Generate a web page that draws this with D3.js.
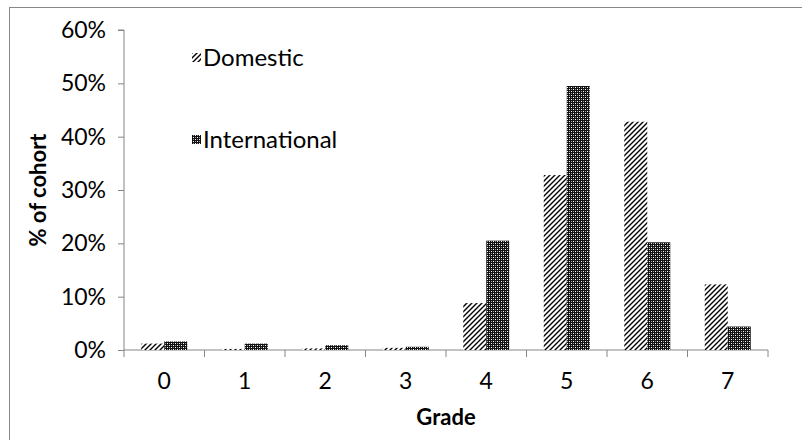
<!DOCTYPE html>
<html><head><meta charset="utf-8">
<script src="https://cdn.jsdelivr.net/npm/d3@7/dist/d3.min.js"></script>
<style>body{margin:0;background:#fff}svg{display:block}</style>
</head><body><svg id="c" width="802" height="440"></svg>
<script>
const categories = ["0","1","2","3","4","5","6","7"];
const seriesNames = ["Domestic","International"];
const domestic = [1.2, 0.2, 0.3, 0.4, 8.8, 32.8, 42.8, 12.3];
const international = [1.6, 1.2, 0.9, 0.6, 20.5, 49.5, 20.2, 4.4];
const yTicks = [0,10,20,30,40,50,60];

(function(){
const svg = d3.select("#c");
const font = "Lato, 'Open Sans', sans-serif";
const fs = 23;
const defs = svg.append("defs");
const p1 = defs.append("pattern").attr("id","pDom").attr("patternUnits","userSpaceOnUse").attr("width",5).attr("height",5);
p1.append("rect").attr("width",5).attr("height",5).attr("fill","#fff");
p1.append("path").attr("d","M-1,1 L1,-1 M0,5 L5,0 M4,6 L6,4").attr("stroke","#000").attr("stroke-width",1.4);
const p2 = defs.append("pattern").attr("id","pInt").attr("patternUnits","userSpaceOnUse").attr("width",4).attr("height",4);
p2.append("rect").attr("width",4).attr("height",4).attr("fill","#111");
p2.append("rect").attr("x",1).attr("y",1).attr("width",1).attr("height",1).attr("fill","#fff");
p2.append("rect").attr("x",3).attr("y",3).attr("width",1).attr("height",1).attr("fill","#fff");
p2.append("rect").attr("x",3).attr("y",1).attr("width",1).attr("height",1).attr("fill","#999");
p2.append("rect").attr("x",1).attr("y",3).attr("width",1).attr("height",1).attr("fill","#999");

// outer border
svg.append("rect").attr("x",9.5).attr("y",7.5).attr("width",800).attr("height",440)
  .attr("fill","none").attr("stroke","#888").attr("stroke-width",1);

const pLeft=124, pRight=768, pTop=30, pBottom=350;
const x = d3.scaleBand().domain(categories).range([pLeft,pRight]);
const y = d3.scaleLinear().domain([0,60]).range([pBottom,pTop]);
const barW = 23;
const axisColor = "#868686";

// y axis
const ya = svg.append("g").attr("transform",`translate(${pLeft},0)`)
  .call(d3.axisLeft(y).tickValues(yTicks).tickSize(6).tickPadding(12).tickFormat(d=>d+"%"));
ya.select(".domain").attr("stroke",axisColor).attr("d",`M-6,${pTop}H0V${pBottom}`);
ya.selectAll(".tick line").attr("stroke",axisColor);
ya.selectAll("text").attr("font-family",font).attr("font-size",fs).attr("fill","#000");

// x axis
const xa = svg.append("g").attr("transform",`translate(0,${pBottom})`)
  .call(d3.axisBottom(x).tickSize(0).tickPadding(23));
xa.select(".domain").attr("stroke",axisColor).attr("d",`M${pLeft},0H${pRight}`);
xa.selectAll("text").attr("font-family",font).attr("font-size",fs).attr("fill","#000");
const bounds = categories.map(c=>x(c)).concat([pRight]);
xa.selectAll(".bnd").data(bounds).enter().append("line").attr("class","bnd")
  .attr("x1",d=>d).attr("x2",d=>d).attr("y1",0).attr("y2",7).attr("stroke",axisColor);

// bars
const rows = categories.map((c,i)=>({c, vals:[domestic[i], international[i]]}));
const fills = ["url(#pDom)","url(#pInt)"];
const grp = svg.append("g");
rows.forEach(r=>{
  r.vals.forEach((v,j)=>{
    const cx = x(r.c)+x.bandwidth()/2;
    grp.append("rect").attr("x",cx - barW + j*barW).attr("width",barW)
      .attr("y",y(v)).attr("height",pBottom-y(v)).attr("fill",fills[j]);
  });
});

// legend
const lg = svg.append("g");
seriesNames.forEach((s,i)=>{
  const yy = 58 + i*82;
  lg.append("rect").attr("x",192).attr("y",yy-5).attr("width",9).attr("height",9).attr("fill",fills[i]);
  lg.append("text").attr("x",203).attr("y",yy+8).text(s).attr("font-family",font).attr("font-size",24).attr("fill","#000");
});

// titles
svg.append("text").attr("x",446).attr("y",425).attr("text-anchor","middle").attr("font-family",font)
  .attr("font-weight","bold").attr("font-size",fs-1).text("Grade");
svg.append("text").attr("transform","translate(46,190) rotate(-90)").attr("text-anchor","middle")
  .attr("font-family",font).attr("font-weight","bold").attr("font-size",fs-1).text("% of cohort");
})();
</script></body></html>
